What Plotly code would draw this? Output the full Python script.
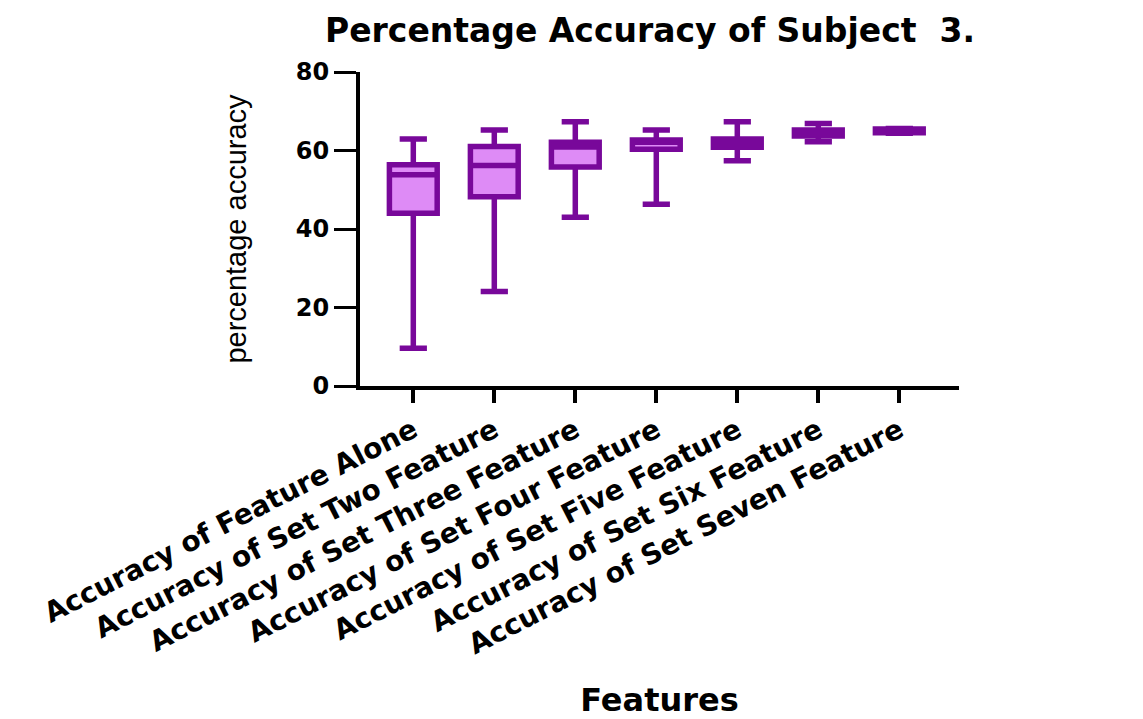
import plotly.graph_objects as go

categories = [
    "Accuracy of Feature Alone",
    "Accuracy of Set Two Feature",
    "Accuracy of Set Three Feature",
    "Accuracy of Set Four Feature",
    "Accuracy of Set Five Feature",
    "Accuracy of Set Six Feature",
    "Accuracy of Set Seven Feature",
]
lower_whisker = [9.6, 24.1, 43.0, 46.3, 57.4, 62.2, 64.4]
q1_values = [44.0, 48.2, 55.8, 60.3, 60.8, 63.7, 64.5]
median_values = [53.8, 56.2, 60.9, 62.1, 61.8, 64.4, 65.0]
q3_values = [56.4, 61.0, 62.1, 62.7, 62.9, 65.2, 65.5]
upper_whisker = [62.9, 65.2, 67.3, 65.2, 67.3, 66.9, 65.6]
y_ticks = [0, 20, 40, 60, 80]

LINE = "#78089A"
FILL = "#DE8BF6"

W, H = 1135, 711

fig = go.Figure()
fig.add_trace(go.Box(
    x=categories,
    q1=q1_values,
    median=median_values,
    q3=q3_values,
    lowerfence=lower_whisker,
    upperfence=upper_whisker,
    boxpoints=False,
    width=0.59,
    whiskerwidth=0.57,
    line=dict(color=LINE, width=5.5),
    fillcolor=FILL,
    showlegend=False,
    hoverinfo="skip",
))

fig.update_layout(
    width=W, height=H,
    paper_bgcolor="white", plot_bgcolor="white",
    margin=dict(l=352, r=184, t=64, b=333, autoexpand=False),
    title=dict(
        text="Percentage Accuracy of Subject\u00a0 3.",
        font=dict(family="DejaVu Sans", size=33, color="black", weight="bold"),
        xref="container", x=642 / W, xanchor="center",
        yref="container", y=1 - 22 / H, yanchor="middle",
    ),
    font=dict(family="DejaVu Sans", color="black"),
)

fig.update_xaxes(
    type="category",
    range=[-0.658, 6.737],
    showline=True, linecolor="black", linewidth=4,
    ticks="outside", ticklen=13, tickwidth=4, tickcolor="black",
    tickangle=-27,
    tickfont=dict(family="DejaVu Sans", size=28, color="black", weight="bold"),
    showgrid=False, zeroline=False, automargin=False,
    title=dict(text="Features",
               font=dict(family="DejaVu Sans", size=32, color="black", weight="bold"),
               standoff=40),
)
fig.update_yaxes(
    range=[0, 80],
    tickvals=y_ticks,
    showline=True, linecolor="black", linewidth=4,
    ticks="outside", ticklen=22, tickwidth=3, tickcolor="black",
    tickfont=dict(family="DejaVu Sans", size=24, color="black", weight="bold"),
    showgrid=False, zeroline=False, automargin=False,
    title=dict(text="percentage accuracy",
               font=dict(family="Liberation Sans", size=29, color="black"),
               standoff=42),
)

fig.write_html("out.html")
